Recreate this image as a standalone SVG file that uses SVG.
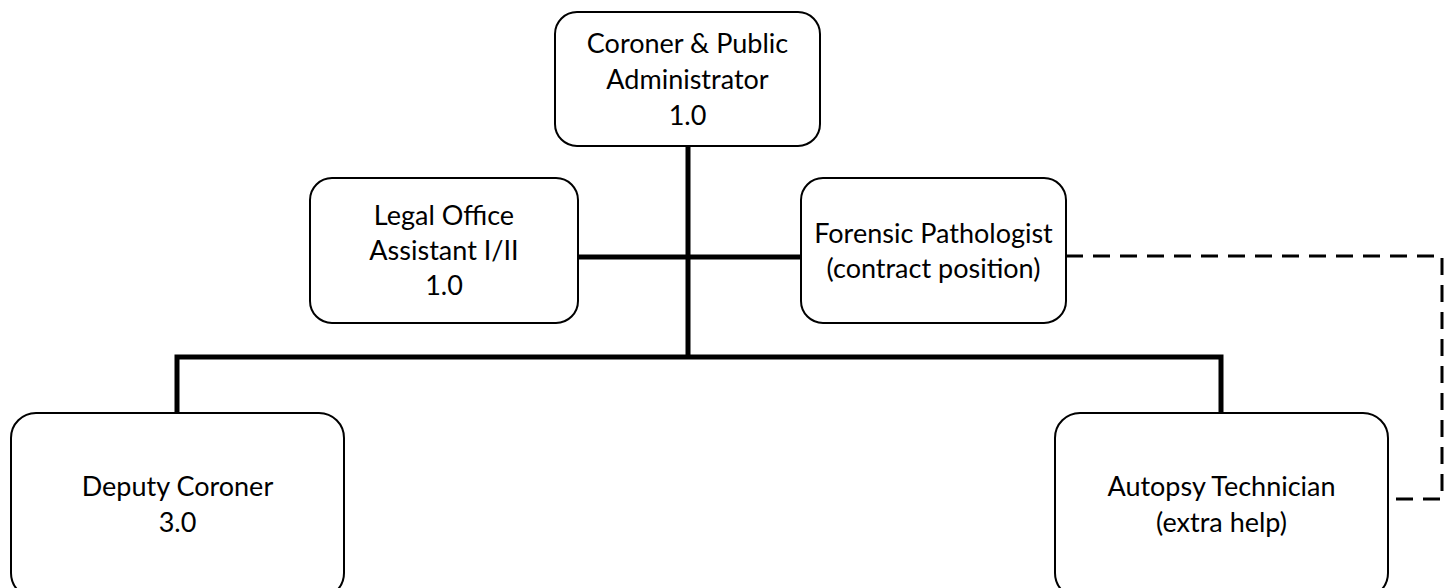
<svg xmlns="http://www.w3.org/2000/svg" width="1450" height="588" viewBox="0 0 1450 588">
  <style>
    .box { fill: #ffffff; stroke: #000000; stroke-width: 2; }
    .lbl { font-family: Lato, "Liberation Sans", sans-serif; font-size: 27px; fill: #000000; text-anchor: middle; }
    .solid { fill: none; stroke: #000000; stroke-width: 5; stroke-linejoin: miter; stroke-linecap: butt; }
    .dash { fill: none; stroke: #000000; stroke-width: 3; stroke-dasharray: 17 10; }
  </style>
  <rect x="0" y="0" width="1450" height="588" fill="#ffffff"/>
  <g id="connectors">
    <path class="solid" d="M688,146 V359"/>
    <path class="solid" d="M578,257 H801"/>
    <path class="solid" d="M177,413 V357 H1221 V413"/>
    <path class="dash" d="M1066,256 H1442 V499 H1388"/>
  </g>
  <g id="coroner">
    <rect class="box" x="555" y="12" width="265" height="134" rx="22" ry="22"/>
    <text class="lbl" x="687.5" y="53">Coroner &amp; Public</text>
    <text class="lbl" x="687.5" y="89">Administrator</text>
    <text class="lbl" x="687.5" y="125">1.0</text>
  </g>
  <g id="legal">
    <rect class="box" x="310" y="178" width="268" height="145" rx="22" ry="22"/>
    <text class="lbl" x="444" y="225">Legal Office</text>
    <text class="lbl" x="444" y="260">Assistant I/II</text>
    <text class="lbl" x="444" y="295">1.0</text>
  </g>
  <g id="forensic">
    <rect class="box" x="801" y="178" width="265" height="145" rx="22" ry="22"/>
    <text class="lbl" x="933.5" y="243">Forensic Pathologist</text>
    <text class="lbl" x="933.5" y="278">(contract position)</text>
  </g>
  <g id="deputy">
    <rect class="box" x="11" y="413" width="333" height="185" rx="25" ry="25"/>
    <text class="lbl" x="177.5" y="496">Deputy Coroner</text>
    <text class="lbl" x="177.5" y="532">3.0</text>
  </g>
  <g id="autopsy">
    <rect class="box" x="1055" y="413" width="333" height="185" rx="25" ry="25"/>
    <text class="lbl" x="1221.5" y="496">Autopsy Technician</text>
    <text class="lbl" x="1221.5" y="532">(extra help)</text>
  </g>
</svg>
